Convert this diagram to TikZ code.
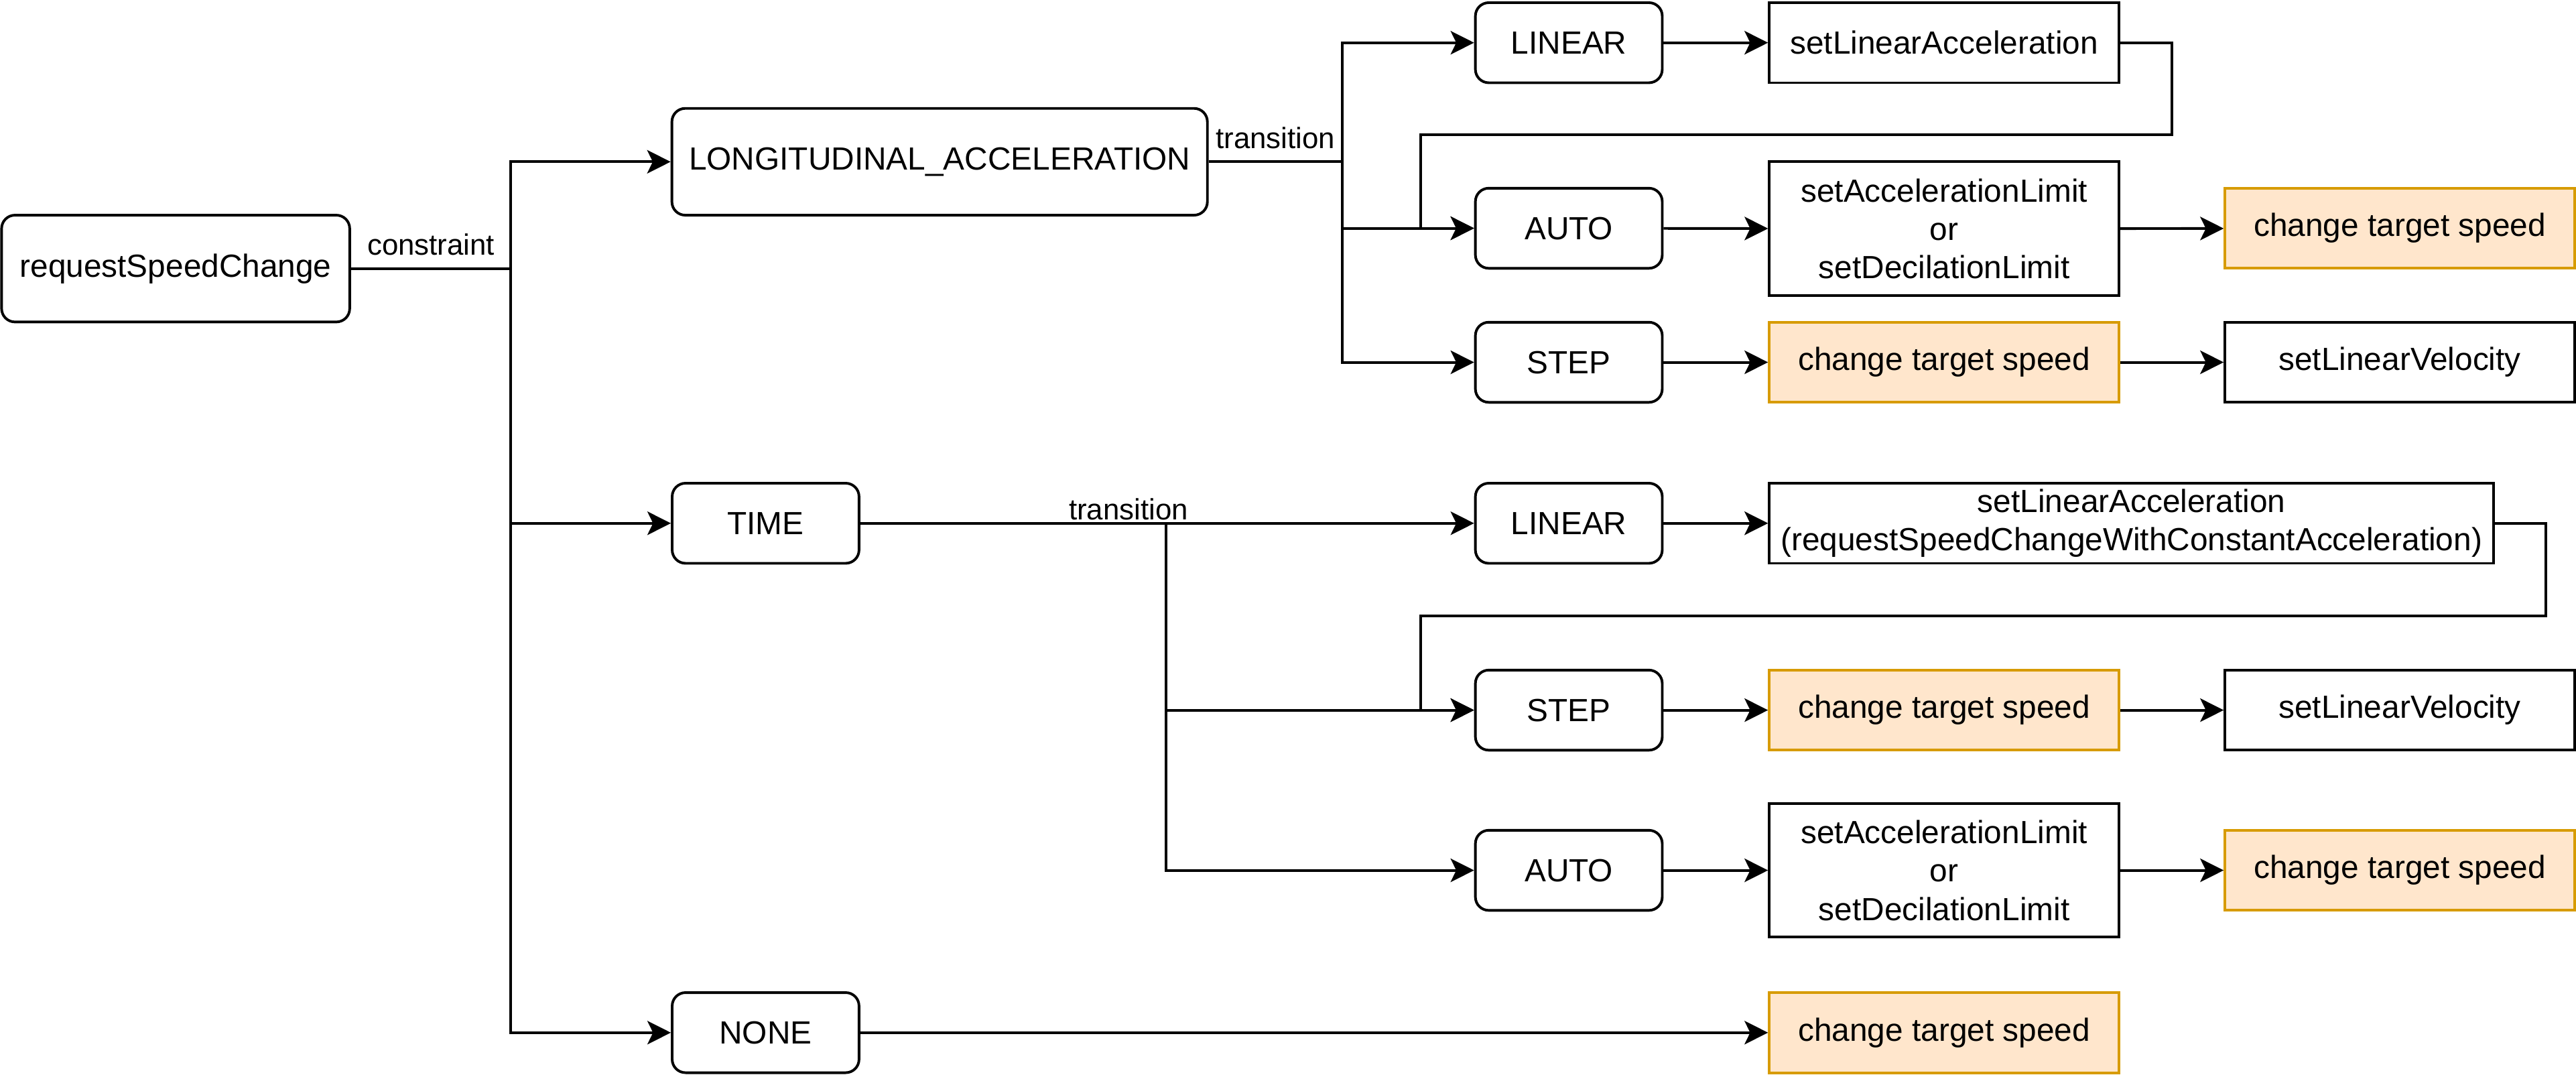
\documentclass[tikz,border=0pt]{standalone}
\usepackage{fontspec}
\setmainfont{Liberation Sans}
\usetikzlibrary{arrows.meta}
\pgfdeclarelayer{edgelayer}
\pgfdeclarelayer{nodelayer}
\pgfsetlayers{edgelayer,nodelayer,main}
\definecolor{targetfill}{HTML}{FFE6CC}
\definecolor{targetdraw}{HTML}{D79B00}
\tikzstyle{mode}=[rectangle,rounded corners=0.25cm,draw=black,fill=white,line width=1.4pt,minimum width=3.5cm,minimum height=1.5cm,inner sep=1pt,align=center,font=\fontsize{17.07}{20.5}\selectfont]
\tikzstyle{call}=[rectangle,draw=black,fill=white,line width=1.4pt,minimum width=6.55cm,minimum height=1.5cm,inner sep=1pt,align=center,font=\fontsize{17.07}{20.5}\selectfont]
\tikzstyle{target}=[call,fill=targetfill,draw=targetdraw]
\tikzstyle{flow}=[-{Stealth[length=12.5pt,width=12.5pt,inset=3pt]},draw=black,line width=1.4pt]
\tikzstyle{branch_label}=[font=\fontsize{15.65}{18.8}\selectfont,inner sep=2pt]

\begin{document}
\begin{tikzpicture}
	\useasboundingbox (0, 0) rectangle (48.25, -20.125);
	\begin{pgfonlayer}{nodelayer}
		\node [style=mode, minimum width=6.52cm, minimum height=2cm] (0) at (3.29, -5.03) {requestSpeedChange};
		\node [style=mode, minimum width=10.03cm, minimum height=2cm] (1) at (17.6, -3.03) {LONGITUDINAL\_ACCELERATION};
		\node [style=mode] (2) at (14.34, -9.8) {TIME};
		\node [style=mode] (3) at (14.34, -19.34) {NONE};
		\node [style=mode] (4) at (29.385, -0.8) {LINEAR};
		\node [style=call] (5) at (36.415, -0.8) {setLinearAcceleration};
		\node [style=mode] (6) at (29.385, -4.275) {AUTO};
		\node [style=call, minimum height=2.51cm] (7) at (36.415, -4.285) {setAccelerationLimit\\or\\setDecilationLimit};
		\node [style=target] (8) at (44.95, -4.275) {change target speed};
		\node [style=mode] (9) at (29.385, -6.785) {STEP};
		\node [style=target] (10) at (36.415, -6.785) {change target speed};
		\node [style=call] (11) at (44.95, -6.785) {setLinearVelocity};
		\node [style=mode] (12) at (29.385, -9.8) {LINEAR};
		\node [style=call, minimum width=13.57cm] (13) at (39.925, -9.8) {setLinearAcceleration\\(requestSpeedChangeWithConstantAcceleration)};
		\node [style=mode] (14) at (29.385, -13.3) {STEP};
		\node [style=target] (15) at (36.415, -13.3) {change target speed};
		\node [style=call] (16) at (44.95, -13.3) {setLinearVelocity};
		\node [style=mode] (17) at (29.385, -16.3) {AUTO};
		\node [style=call, minimum height=2.5cm] (18) at (36.415, -16.3) {setAccelerationLimit\\or\\setDecilationLimit};
		\node [style=target] (19) at (44.95, -16.3) {change target speed};
		\node [style=target] (20) at (36.415, -19.34) {change target speed};
		\coordinate (j0) at (9.57, -5.03);
		\coordinate (j1) at (25.14, -3.03);
		\coordinate (j2) at (40.675, -2.525);
		\coordinate (j3) at (26.615, -2.525);
		\coordinate (j4) at (21.845, -9.8);
		\coordinate (j5) at (47.69, -11.54);
		\coordinate (j6) at (26.615, -11.54);
	\end{pgfonlayer}
	\begin{pgfonlayer}{edgelayer}
		\draw [style=flow] (0) -- node[style=branch_label, above=0.15cm]{constraint} (j0) |- (1);
		\draw [style=flow] (j0) |- (2);
		\draw [style=flow] (j0) |- (3);
		\draw [style=flow] (1) -- node[style=branch_label, above=0.15cm]{transition} (j1) |- (4);
		\draw [style=flow] (j1) |- (6);
		\draw [style=flow] (j1) |- (9);
		\draw [style=flow] (4) -- (5);
		\draw [style=flow] (5) -| (j2) -- (j3) |- (6);
		\draw [style=flow] (6) -- (7);
		\draw [style=flow] (7) -- (8);
		\draw [style=flow] (9) -- (10);
		\draw [style=flow] (10) -- (11);
		\draw [style=flow] (2) -- node[style=branch_label, pos=0.437, above=-0.04cm]{transition} (12);
		\draw [style=flow] (j4) |- (14);
		\draw [style=flow] (j4) |- (17);
		\draw [style=flow] (12) -- (13);
		\draw [style=flow] (13) -| (j5) -- (j6) |- (14);
		\draw [style=flow] (14) -- (15);
		\draw [style=flow] (15) -- (16);
		\draw [style=flow] (17) -- (18);
		\draw [style=flow] (18) -- (19);
		\draw [style=flow] (3) -- (20);
	\end{pgfonlayer}
\end{tikzpicture}
\end{document}
